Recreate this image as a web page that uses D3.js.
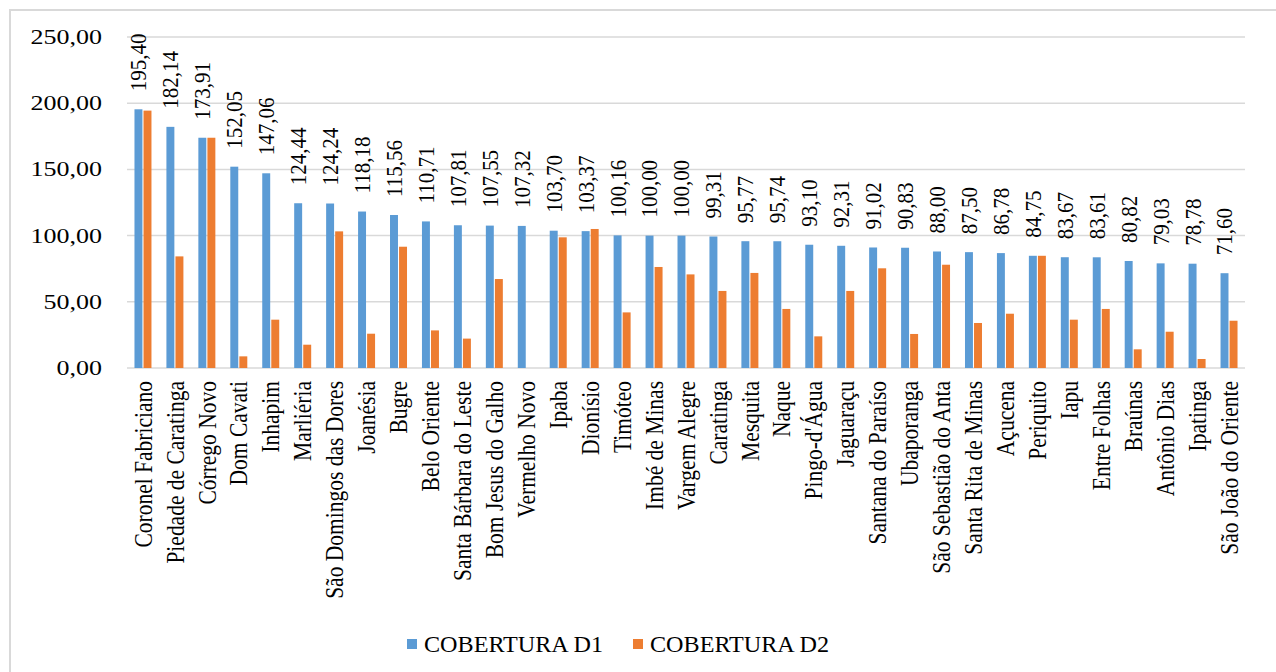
<!DOCTYPE html>
<html>
<head>
<meta charset="utf-8">
<script src="https://cdn.jsdelivr.net/npm/d3@7"></script>
<style>
  html, body { margin: 0; padding: 0; background: #fff; }
  svg { display: block; }
  text { font-family: "Liberation Serif", "Times New Roman", serif; fill: #000; }
</style>
</head>
<body>
<svg id="chart" width="1276" height="672"></svg>
<script>
const categories = ["Coronel Fabriciano","Piedade de Caratinga","Córrego Novo","Dom Cavati","Inhapim","Marliéria","São Domingos das Dores","Joanésia","Bugre","Belo Oriente","Santa Bárbara do Leste","Bom Jesus do Galho","Vermelho Novo","Ipaba","Dionísio","Timóteo","Imbé de Minas","Vargem Alegre","Caratinga","Mesquita","Naque","Pingo-d'Água","Jaguaraçu","Santana do Paraíso","Ubaporanga","São Sebastião do Anta","Santa Rita de Minas","Açucena","Periquito","Iapu","Entre Folhas","Braúnas","Antônio Dias","Ipatinga","São João do Oriente"];
const coberturaD1 = [195.40,182.14,173.91,152.05,147.06,124.44,124.24,118.18,115.56,110.71,107.81,107.55,107.32,103.70,103.37,100.16,100.00,100.00,99.31,95.77,95.74,93.10,92.31,91.02,90.83,88.00,87.50,86.78,84.75,83.67,83.61,80.82,79.03,78.78,71.60];
const coberturaD2 = [194.4,84.3,173.91,8.8,36.5,17.6,103.2,25.9,91.6,28.4,22.2,67.2,0,98.7,105.0,42.0,76.3,70.7,58.2,71.8,44.6,23.9,58.2,75.3,25.7,78.0,34.0,41.0,84.75,36.5,44.6,14.1,27.4,6.8,35.7];
const seriesNames = ["COBERTURA D1","COBERTURA D2"];
const seriesColors = ["#5b9bd5","#ed7d31"];
const yTicks = [0,50,100,150,200,250];

const ptBR = d3.formatLocale({decimal: ",", thousands: ".", grouping: [3], currency: ["R$", ""]});
const fmt = ptBR.format(".2f");

const svg = d3.select("#chart");

// outer frame (cut off at right/bottom like reference)
svg.append("rect").attr("x", 10).attr("y", 10).attr("width", 1300).attr("height", 700)
  .attr("fill", "none").attr("stroke", "#d9d9d9").attr("stroke-width", 2);

const plot = {left: 127, right: 1245, top: 37, bottom: 368};

const y = d3.scaleLinear().domain([0, 250]).range([plot.bottom, plot.top]);
const x0 = d3.scaleBand().domain(categories).range([plot.left, plot.right]).paddingInner(0.468).paddingOuter(0.234);
const x1 = d3.scaleBand().domain([0, 1]).range([0, x0.bandwidth()]).paddingInner(0.12);

// gridlines
svg.append("g").selectAll("line").data(yTicks).join("line")
  .attr("x1", plot.left).attr("x2", plot.right)
  .attr("y1", d => y(d)).attr("y2", d => y(d))
  .attr("stroke", "#d9d9d9").attr("stroke-width", 1.5);

// y tick labels
svg.append("g").selectAll("text").data(yTicks).join("text")
  .attr("transform", d => `translate(102,${y(d)}) scale(1.3,1)`)
  .attr("text-anchor", "end").attr("dy", "0.35em")
  .attr("font-size", 20)
  .text(d => fmt(d));

// bars
const rows = categories.map((c, i) => ({c, vals: [coberturaD1[i], coberturaD2[i]]}));
const groups = svg.append("g").selectAll("g").data(rows).join("g")
  .attr("transform", d => `translate(${x0(d.c)},0)`);
groups.selectAll("rect").data(d => d.vals.map((v, k) => ({v, k}))).join("rect")
  .attr("x", d => x1(d.k)).attr("width", x1.bandwidth())
  .attr("y", d => y(d.v)).attr("height", d => y(0) - y(d.v))
  .attr("fill", d => seriesColors[d.k]);

// value labels for D1
svg.append("g").selectAll("text").data(rows).join("text")
  .attr("transform", d => `translate(${x0(d.c) + x1(0) + x1.bandwidth() / 2},${y(d.vals[0]) - 18}) scale(1.08,1) rotate(-90)`)
  .attr("text-anchor", "start").attr("dy", "0.35em")
  .attr("font-size", 21)
  .text(d => fmt(d.vals[0]));

// category labels
svg.append("g").selectAll("text").data(categories).join("text")
  .attr("transform", d => `translate(${x0(d) + x0.bandwidth() / 2},381) scale(1.15,1) rotate(-90)`)
  .attr("text-anchor", "end").attr("dy", "0.35em")
  .attr("font-size", 21.5)
  .text(d => d);

// legend
const legendX = [407, 633];
const lg = svg.append("g").selectAll("g").data(seriesNames).join("g")
  .attr("transform", (d, i) => `translate(${legendX[i]},639)`);
lg.append("rect").attr("width", 10).attr("height", 10).attr("fill", (d, i) => seriesColors[i]);
lg.append("text").attr("transform", "translate(17,13) scale(1.05,1)").attr("font-size", 23).text(d => d);
</script>
</body>
</html>
